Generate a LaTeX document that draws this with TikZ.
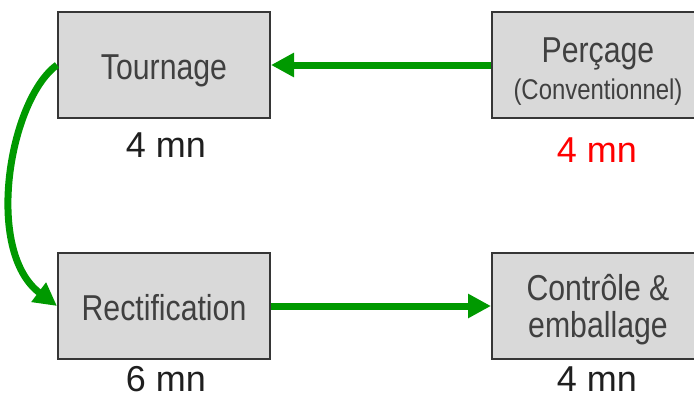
\documentclass[tikz,border=0pt]{standalone}
\usepackage{fontspec}
\setmainfont{Liberation Sans}
\newfontfamily\boxfont[FakeStretch=0.84]{Liberation Sans}
\usetikzlibrary{calc,arrows.meta}
\definecolor{flowgreen}{HTML}{009900}
\definecolor{boxgray}{HTML}{D9D9D9}
\definecolor{boxline}{HTML}{363636}
\definecolor{boxtext}{HTML}{404040}
\definecolor{timetext}{HTML}{1F1F1F}

\begin{document}
\begin{tikzpicture}[x=1pt, y=-1pt,
  poste/.style={draw=boxline, line width=2pt, fill=boxgray, minimum width=212pt,
    minimum height=106pt, inner sep=0pt, align=center, text=boxtext,
    font=\boxfont\fontsize{36}{37}\selectfont},
  une ligne/.style={text height=28pt, text depth=0pt},
  duree/.style={anchor=base, inner sep=0pt, text=timetext, font=\fontsize{36}{37}\selectfont},
  fleche/.style={flowgreen, line width=7pt, -{Triangle[length=23pt,width=23pt]}}]
  \useasboundingbox (0,0) rectangle (694,399);
  \clip (0,0) rectangle (694,399);
  % postes
  \node[poste, une ligne] (tour) at (164,65) {Tournage};
  \node[poste] (perc) at (598,65) {\rule{0pt}{37pt}Perçage\\{\fontsize{28.5}{37}\selectfont (Conventionnel)}};
  \node[poste, une ligne] (rect) at (164,306) {Rectification};
  \node[poste] (ctrl) at (598,306) {\rule{0pt}{33pt}Contrôle \&\\emballage};
  % temps
  \node[duree] (ttour) at (166,157) {4 mn};
  \node[duree, text=red] (tperc) at (597,162) {4 mn};
  \node[duree] (trect) at (166,391) {6 mn};
  \node[duree] (tctrl) at (597,391) {4 mn};
  % flux
  \draw[fleche] (perc.west) -- (tour.east);
  \draw[fleche] (tour.west) .. controls ($(tour.west)+(-48,35)$) and ($(rect.west)+(-73,-55)$) .. (rect.west);
  \draw[fleche] (rect.east) -- (ctrl.west);
\end{tikzpicture}
\end{document}
